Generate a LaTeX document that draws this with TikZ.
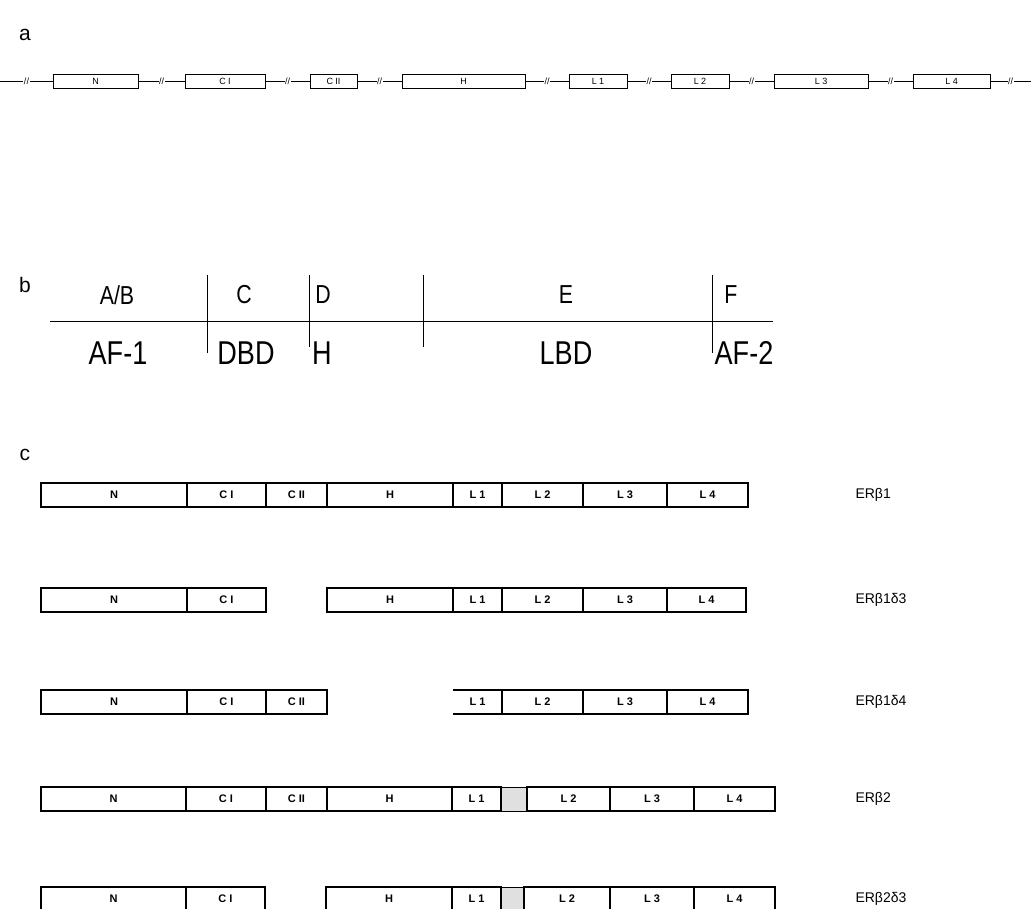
\documentclass[tikz,border=0pt]{standalone}
\usepackage{fontspec}
\setmainfont{Liberation Sans}
\usepackage{graphicx}
\usetikzlibrary{positioning}

\newcommand{\narrow}[1]{\scalebox{0.82}[1]{#1}}

\begin{document}
\begin{tikzpicture}[
    x=1pt, y=-1pt,
    % --- Styles ---
    panel/.style={font=\fontsize{21}{21}\selectfont},
    exon/.style={
        rectangle,
        draw,
        line width=0.8pt,
        minimum height=14pt,
        inner sep=0pt,
        outer sep=0pt,
        font=\fontsize{9}{9}\selectfont
    },
    brk/.style={fill=white, inner sep=0.5pt, font=\fontsize{9}{9}\selectfont},
    region/.style={font=\fontsize{26}{26}\selectfont},
    role/.style={font=\fontsize{33}{33}\selectfont},
    seg/.style={
        rectangle,
        draw,
        line width=1.1pt,
        minimum height=24pt,
        inner sep=0pt,
        outer sep=0pt,
        font=\fontsize{11}{11}\selectfont\bfseries
    },
    segopen/.style={seg, draw=none},
    ins/.style={seg, fill=black!12, line width=0.6pt},
    iso/.style={anchor=west, font=\fontsize{14}{14}\selectfont}
]
\useasboundingbox (0,0) rectangle (1031,909);
\clip (0,0) rectangle (1031,909);

% --- a: exons on the gene ---
\node[panel] (pa) at (25,35) {a};
\coordinate (a0) at (0,81);
\node[exon, minimum width=85pt, anchor=west] (na) at (53,81) {N};
\node[exon, minimum width=80pt, anchor=west] (cia) at (185,81) {C I};
\node[exon, minimum width=47pt, anchor=west] (ciia) at (310,81) {C II};
\node[exon, minimum width=123pt, anchor=west] (ha) at (402,81) {H};
\node[exon, minimum width=58pt, anchor=west] (l1a) at (569,81) {L 1};
\node[exon, minimum width=58pt, anchor=west] (l2a) at (671,81) {L 2};
\node[exon, minimum width=94pt, anchor=west] (l3a) at (774,81) {L 3};
\node[exon, minimum width=77pt, anchor=west] (l4a) at (913,81) {L 4};
\coordinate (a9) at (1031,81);

\draw[line width=0.8pt] (a0) -- node[brk] {//} (na);
\draw[line width=0.8pt] (na) -- node[brk] {//} (cia);
\draw[line width=0.8pt] (cia) -- node[brk] {//} (ciia);
\draw[line width=0.8pt] (ciia) -- node[brk] {//} (ha);
\draw[line width=0.8pt] (ha) -- node[brk] {//} (l1a);
\draw[line width=0.8pt] (l1a) -- node[brk] {//} (l2a);
\draw[line width=0.8pt] (l2a) -- node[brk] {//} (l3a);
\draw[line width=0.8pt] (l3a) -- node[brk] {//} (l4a);
\draw[line width=0.8pt] (l4a) -- node[brk] {//} (a9);

% --- b: receptor regions ---
\node[panel] (pb) at (25,285) {b};
\coordinate (bl) at (50,322);
\coordinate (br) at (773,322);
\draw[line width=1pt] (bl) -- (br);
\draw[line width=0.8pt] (207,275) -- (207,353);
\draw[line width=0.8pt] (309,275) -- (309,347);
\draw[line width=0.8pt] (423,275) -- (423,347);
\draw[line width=0.8pt] (712,275) -- (712,353);

\node[region] (rab) at (117,295) {\narrow{A/B}};
\node[region] (rc) at (244,295) {\narrow{C}};
\node[region] (rd) at (323,295) {\narrow{D}};
\node[region] (re) at (566,295) {\narrow{E}};
\node[region] (rf) at (731,295) {\narrow{F}};
\node[role] (af1) at (118,353) {\narrow{AF-1}};
\node[role] (dbd) at (246,353) {\narrow{DBD}};
\node[role] (hb) at (322,353) {\narrow{H}};
\node[role] (lbd) at (566,353) {\narrow{LBD}};
\node[role] (af2) at (744,353) {\narrow{AF-2}};

% --- c: isoforms ---
\node[panel] (pc) at (25,455) {c};

% ER beta 1
\node[seg, minimum width=146pt, anchor=west] (n1) at (41,495) {N};
\node[seg, minimum width=79pt, right=0pt of n1] (ci1) {C I};
\node[seg, minimum width=61pt, right=0pt of ci1] (cii1) {C II};
\node[seg, minimum width=126pt, right=0pt of cii1] (h1) {H};
\node[seg, minimum width=49pt, right=0pt of h1] (la1) {L 1};
\node[seg, minimum width=81pt, right=0pt of la1] (lb1) {L 2};
\node[seg, minimum width=84pt, right=0pt of lb1] (lc1) {L 3};
\node[seg, minimum width=81pt, right=0pt of lc1] (ld1) {L 4};
\node[iso] (er1) at (852,495) {ERβ1};

% ER beta 1 delta 3
\node[seg, minimum width=146pt, anchor=west] (n2) at (41,600) {N};
\node[seg, minimum width=79pt, right=0pt of n2] (ci2) {C I};
\node[seg, minimum width=126pt, anchor=west] (h2) at (327,600) {H};
\node[seg, minimum width=49pt, right=0pt of h2] (la2) {L 1};
\node[seg, minimum width=81pt, right=0pt of la2] (lb2) {L 2};
\node[seg, minimum width=84pt, right=0pt of lb2] (lc2) {L 3};
\node[seg, minimum width=79pt, right=0pt of lc2] (ld2) {L 4};
\node[iso] (er2) at (852,600) {ERβ1δ3};

% ER beta 1 delta 4
\node[seg, minimum width=146pt, anchor=west] (n3) at (41,702) {N};
\node[seg, minimum width=79pt, right=0pt of n3] (ci3) {C I};
\node[seg, minimum width=61pt, right=0pt of ci3] (cii3) {C II};
\node[segopen, minimum width=49pt, anchor=west] (la3) at (453,702) {L 1};
\draw[line width=1.1pt] (la3.north west) -- (la3.north east) -- (la3.south east) -- (la3.south west);
\node[seg, minimum width=81pt, right=0pt of la3] (lb3) {L 2};
\node[seg, minimum width=84pt, right=0pt of lb3] (lc3) {L 3};
\node[seg, minimum width=81pt, right=0pt of lc3] (ld3) {L 4};
\node[iso] (er3) at (852,702) {ERβ1δ4};

% ER beta 2
\node[seg, minimum width=145pt, anchor=west] (n4) at (41,799) {N};
\node[seg, minimum width=80pt, right=0pt of n4] (ci4) {C I};
\node[seg, minimum width=61pt, right=0pt of ci4] (cii4) {C II};
\node[seg, minimum width=125pt, right=0pt of cii4] (h4) {H};
\node[seg, minimum width=49pt, right=0pt of h4] (la4) {L 1};
\node[ins, minimum width=26pt, right=0pt of la4] (x4) {};
\node[seg, minimum width=83pt, right=0pt of x4] (lb4) {L 2};
\node[seg, minimum width=84pt, right=0pt of lb4] (lc4) {L 3};
\node[seg, minimum width=81pt, right=0pt of lc4] (ld4) {L 4};
\node[iso] (er4) at (852,799) {ERβ2};

% ER beta 2 delta 3
\node[seg, minimum width=145pt, anchor=west] (n5) at (41,899) {N};
\node[seg, minimum width=79pt, right=0pt of n5] (ci5) {C I};
\node[seg, minimum width=126pt, anchor=west] (h5) at (326,899) {H};
\node[seg, minimum width=49pt, right=0pt of h5] (la5) {L 1};
\node[ins, minimum width=23pt, right=0pt of la5] (x5) {};
\node[seg, minimum width=86pt, right=0pt of x5] (lb5) {L 2};
\node[seg, minimum width=84pt, right=0pt of lb5] (lc5) {L 3};
\node[seg, minimum width=81pt, right=0pt of lc5] (ld5) {L 4};
\node[iso] (er5) at (852,899) {ERβ2δ3};

\end{tikzpicture}
\end{document}
